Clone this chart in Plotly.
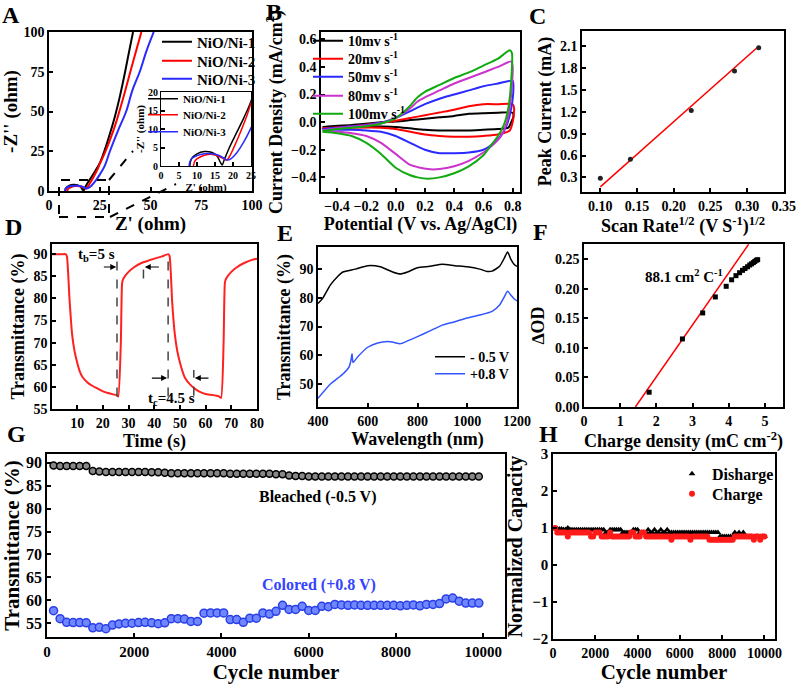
import plotly.graph_objects as go

FONT = "Liberation Serif"
W, H = 798, 684

# ---------------- Data ----------------
# A: Nyquist plots
a_names = ["NiO/Ni-1", "NiO/Ni-2", "NiO/Ni-3"]
a_colors = ["#000000", "#ff0000", "#2a2aff"]
a1_x = [8, 8.5, 10, 12, 14, 15.5, 16.5, 17, 17.5, 19, 21, 23, 25, 27.5, 30, 32.5, 35, 37.5, 39.5, 41.4]
a1_y = [0, 2, 3.3, 3.9, 3.7, 2.8, 1.0, 0.3, 1.5, 5, 9, 13, 17.5, 26, 36, 47, 60, 75, 88, 100]
a2_x = [9, 9.5, 11, 13, 15, 17, 18.2, 19, 20, 22, 24, 25, 27.5, 30, 33, 36, 39, 42, 45.5]
a2_y = [0, 1.5, 2.5, 3.1, 3.0, 2.2, 1.6, 2.5, 4.5, 9, 14, 17, 24, 32, 43, 56, 70, 84, 100]
a3_x = [7.8, 8.3, 10, 12, 14, 16, 17.5, 18.5, 19.5, 21, 23, 25, 27.5, 30, 34, 38, 41, 44.7, 48, 51.6]
a3_y = [0, 1.8, 2.8, 3.3, 3.3, 2.9, 2.1, 1.6, 2.0, 3.5, 6.5, 10.3, 16, 25, 38, 50, 63, 75, 88, 100]

# B: CV curves (closed loops)
b_names = ["10mv s<sup>-1</sup>", "20mv s<sup>-1</sup>", "50mv s<sup>-1</sup>",
           "80mv s<sup>-1</sup>", "100mv s<sup>-1</sup>"]
b_colors = ["#000000", "#ff0000", "#2a2aff", "#cc33cc", "#11aa11"]
b10_x = [-0.5, -0.3, -0.1, 0.0, 0.1, 0.2, 0.3, 0.4, 0.5, 0.6, 0.7, 0.8, 0.805, 0.79, 0.77, 0.7, 0.6, 0.5, 0.4, 0.3, 0.2, 0.1, 0.0, -0.2, -0.5]
b10_y = [-0.035, -0.02, 0.0, 0.005, 0.015, 0.025, 0.035, 0.045, 0.06, 0.065, 0.068, 0.068, 0.04, 0.0, -0.04, -0.05, -0.055, -0.06, -0.06, -0.06, -0.055, -0.045, -0.035, -0.03, -0.035]
b20_x = [-0.5, -0.3, -0.1, 0.0, 0.1, 0.2, 0.3, 0.4, 0.5, 0.6, 0.7, 0.8, 0.81, 0.8, 0.78, 0.7, 0.6, 0.5, 0.4, 0.3, 0.2, 0.1, 0.0, -0.1, -0.3, -0.5]
b20_y = [-0.045, -0.03, -0.005, 0.01, 0.03, 0.05, 0.07, 0.09, 0.115, 0.13, 0.13, 0.13, 0.1, 0.0, -0.06, -0.09, -0.1, -0.105, -0.105, -0.1, -0.09, -0.07, -0.05, -0.04, -0.04, -0.045]
b50_x = [-0.5, -0.4, -0.3, -0.2, -0.1, 0.0, 0.1, 0.2, 0.3, 0.4, 0.5, 0.6, 0.7, 0.8, 0.805, 0.79, 0.76, 0.72, 0.66, 0.6, 0.5, 0.4, 0.3, 0.2, 0.1, 0.0, -0.1, -0.2, -0.3, -0.4, -0.5]
b50_y = [-0.05, -0.04, -0.03, -0.02, -0.005, 0.03, 0.08, 0.13, 0.17, 0.2, 0.23, 0.26, 0.28, 0.30, 0.25, 0.1, -0.02, -0.1, -0.16, -0.2, -0.22, -0.225, -0.225, -0.2, -0.15, -0.1, -0.07, -0.06, -0.055, -0.055, -0.05]
b80_x = [-0.5, -0.4, -0.3, -0.2, -0.1, 0.0, 0.1, 0.15, 0.2, 0.3, 0.4, 0.5, 0.6, 0.7, 0.79, 0.8, 0.79, 0.76, 0.72, 0.66, 0.6, 0.5, 0.4, 0.3, 0.22, 0.1, 0.0, -0.1, -0.2, -0.3, -0.4, -0.5]
b80_y = [-0.06, -0.045, -0.035, -0.025, -0.01, 0.03, 0.1, 0.15, 0.18, 0.23, 0.28, 0.32, 0.36, 0.40, 0.44, 0.40, 0.2, 0.0, -0.1, -0.17, -0.22, -0.28, -0.32, -0.34, -0.34, -0.31, -0.23, -0.15, -0.1, -0.08, -0.07, -0.065]
b100_x = [-0.5, -0.4, -0.3, -0.2, -0.1, 0.0, 0.05, 0.1, 0.15, 0.2, 0.3, 0.4, 0.5, 0.6, 0.7, 0.78, 0.795, 0.79, 0.77, 0.74, 0.7, 0.65, 0.6, 0.5, 0.4, 0.3, 0.22, 0.15, 0.1, 0.0, -0.1, -0.2, -0.3, -0.4, -0.5]
b100_y = [-0.065, -0.05, -0.04, -0.03, -0.01, 0.03, 0.07, 0.12, 0.18, 0.22, 0.27, 0.32, 0.36, 0.41, 0.46, 0.52, 0.50, 0.30, 0.10, -0.02, -0.1, -0.17, -0.24, -0.32, -0.37, -0.40, -0.41, -0.40, -0.385, -0.33, -0.23, -0.15, -0.10, -0.08, -0.07]

# C: peak current vs sqrt(scan rate)
c_x = [0.100, 0.141, 0.224, 0.283, 0.316]
c_y = [0.29, 0.55, 1.22, 1.76, 2.08]
c_fit_x = [0.100, 0.316]
c_fit_y = [0.17, 2.10]

# D: switching response
d_t = [0, 2, 4, 5.5, 6, 7, 8, 9, 10, 11, 12, 14, 16, 18, 20, 22, 24, 25.5, 26, 27, 27.5, 28, 30, 32, 35, 38, 40, 43, 45.5,
       46, 47, 48, 49, 50, 51, 52, 54, 56, 58, 60, 62, 65, 66, 67, 67.5, 68, 70, 72, 75, 78, 80]
d_T = [90, 90, 90, 90, 89.5, 80, 72, 68, 65.5, 63.5, 62.3, 61, 60.2, 59.6, 59, 58.6, 58.3, 58.1, 57.8, 70, 83.5, 84.5, 86, 87, 88, 88.6, 89, 89.5, 90,
       89.5, 79, 72, 68, 65.5, 63.5, 62, 60.5, 59.5, 58.8, 58.4, 58.2, 57.9, 57.5, 70, 83.5, 84.5, 86, 87, 88, 88.7, 89]
d_marks_x = [25.5, 35.8, 45.4, 55.4]
d_marks_y0 = [57.8, 84.5, 57.8, 58.0]
d_marks_y1 = [90, 88.3, 90, 63.8]

# E: transmittance spectra
e_wl_k = [400, 420, 450, 480, 500, 550, 600, 650, 700, 730, 760, 800, 850, 900, 950, 1000, 1050, 1080, 1100, 1130, 1150, 1162, 1175, 1190, 1200]
e_T_k = [78, 80, 84.5, 87.5, 89, 90, 91.2, 90.8, 89, 88.3, 89, 90.5, 91, 91.7, 91.2, 90.8, 90, 89.2, 89.3, 91, 94, 96, 93.5, 91.5, 91]
e_wl_b = [400, 450, 500, 525, 532, 537, 541, 560, 600, 640, 680, 700, 730, 760, 800, 850, 900, 950, 1000, 1050, 1100, 1130, 1150, 1162, 1175, 1190, 1200]
e_T_b = [45, 50, 53.5, 56, 58, 60.5, 57.5, 59.5, 62.8, 64.3, 64.8, 64.6, 64, 65, 66.5, 68.5, 70.5, 71.7, 73, 74, 75.3, 77.5, 80.5, 82.3, 81, 79.5, 79]

# F: coloration efficiency
f_q = [1.80, 2.72, 3.28, 3.63, 3.93, 4.08, 4.20, 4.30, 4.38, 4.45, 4.52, 4.58, 4.63, 4.68, 4.72, 4.76, 4.80]
f_od = [0.025, 0.115, 0.159, 0.186, 0.204, 0.215, 0.222, 0.227, 0.231, 0.234, 0.237, 0.240, 0.242, 0.244, 0.246, 0.248, 0.249]
f_fit_x = [1.42, 4.55]
f_fit_y = [0.0, 0.275]

# G: cycling transmittance
g_cycles = list(range(150, 10000, 150))
g_bleached = [89.4, 89.3, 89.3, 89.3, 89.3, 89.3,
              88.2, 88.1, 88.0, 88.0, 88.0, 88.0, 88.0, 88.0, 88.0, 87.9, 87.9, 87.8, 87.7, 87.7, 87.7,
              87.7, 87.7, 87.7, 87.7, 87.7, 87.7, 87.6, 87.6, 87.6, 87.6, 87.6, 87.6, 87.6, 87.5, 87.5,
              87.2, 87.1, 87.1, 87.0, 87.0, 87.0, 87.0, 87.0, 87.0, 87.0, 87.0, 87.0, 87.0, 87.0, 87.0,
              87.0, 87.0, 87.0, 87.0, 87.0, 87.0, 87.0, 87.0, 87.0, 87.0, 87.0, 87.0, 87.0, 87.0, 87.0]
g_colored = [57.75, 56.0, 55.2, 55.15, 55.15, 55.1, 54.0, 54.1, 53.8, 54.6, 54.85, 55.0, 55.0, 55.15, 55.2,
             55.1, 54.9, 55.1, 56.0, 56.0, 55.9, 55.4, 55.4, 57.2, 57.25, 57.25, 57.25, 55.8, 55.8, 55.2,
             56.1, 56.1, 57.25, 57.0, 57.6, 58.9, 58.0, 58.0, 58.7, 57.8, 57.8, 58.7, 58.6, 59.1, 59.0,
             58.9, 59.0, 58.9, 58.9, 58.9, 58.9, 58.9, 58.9, 58.8, 58.9, 59.0, 58.8, 59.1, 59.1, 59.3,
             60.3, 60.5, 59.8, 59.4, 59.4, 59.4]

# H: normalized capacity
h_cycles = list(range(100, 10001, 100))
h_discharge = [1.00, 0.98, 0.97, 0.97, 0.96, 0.96, 1.00, 0.96, 0.95, 0.95, 0.95, 0.95, 0.95, 0.95, 0.95, 0.95, 0.95, 0.95, 0.95, 0.95,
               0.95, 0.95, 0.95, 0.95, 0.88, 0.88, 0.95, 0.95, 0.95, 0.95, 0.95, 0.95, 0.88, 0.88, 0.88, 0.88, 0.88, 0.95, 0.95, 0.95,
               0.88, 0.88, 0.88, 0.88, 0.95, 0.88, 0.88, 0.95, 0.88, 0.88, 0.95, 0.88, 0.88, 0.95, 0.88, 0.88, 0.88, 0.88, 0.88, 0.88,
               0.88, 0.88, 0.88, 0.88, 0.88, 0.88, 0.88, 0.88, 0.88, 0.88, 0.88, 0.88, 0.88, 0.88, 0.88, 0.88, 0.88, 0.88, 0.77, 0.77,
               0.77, 0.77, 0.77, 0.77, 0.77, 0.88, 0.77, 0.88, 0.77, 0.88, 0.77, 0.77, 0.77, 0.77, 0.77, 0.77, 0.77, 0.77, 0.77, 0.77]
h_charge = [1.00, 0.88, 0.88, 0.88, 0.88, 0.88, 0.77, 0.88, 0.88, 0.88, 0.88, 0.88, 0.88, 0.88, 0.88, 0.88, 0.88, 0.77, 0.77, 0.88,
            0.88, 0.88, 0.77, 0.77, 0.77, 0.77, 0.88, 0.77, 0.77, 0.77, 0.77, 0.77, 0.77, 0.77, 0.77, 0.77, 0.88, 0.88, 0.77, 0.77,
            0.77, 0.88, 0.88, 0.77, 0.77, 0.77, 0.77, 0.77, 0.77, 0.77, 0.77, 0.77, 0.77, 0.77, 0.77, 0.68, 0.77, 0.77, 0.77, 0.77,
            0.77, 0.77, 0.77, 0.77, 0.68, 0.77, 0.77, 0.77, 0.77, 0.77, 0.77, 0.77, 0.77, 0.68, 0.68, 0.68, 0.68, 0.68, 0.68, 0.68,
            0.68, 0.68, 0.68, 0.68, 0.68, 0.77, 0.77, 0.77, 0.77, 0.77, 0.77, 0.77, 0.77, 0.77, 0.68, 0.77, 0.77, 0.68, 0.77, 0.77]

# ---------------- Helpers ----------------
def xd(a, b):
    return [a / W, b / W]

def yd(top, bottom):
    return [1 - bottom / H, 1 - top / H]

def px(x):
    return x / W

def py(y):
    return 1 - y / H

def tf(size, color="black"):
    return dict(family=FONT, size=size, color=color, weight="bold")

def axis(dom, rng, tick0, dtick, anchor, fmt=None, size=14, title=None, tsize=18, standoff=4, lw=1.5):
    d = dict(domain=dom, range=rng, tick0=tick0, dtick=dtick, anchor=anchor,
             ticks="inside", ticklen=4, tickwidth=1.5, tickcolor="black",
             showline=True, linecolor="black", linewidth=lw, mirror=True,
             showgrid=False, zeroline=False, tickfont=tf(size), automargin=False)
    if fmt:
        d["tickformat"] = fmt
    if title:
        d["title"] = dict(text=title, font=tf(tsize), standoff=standoff)
    return d

# one legend box per entry so that each entry sits where the reference puts it
legend_boxes = {}
_leg_counter = [0]

def new_legend(x_text, y_center, size):
    _leg_counter[0] += 1
    key = "legend" if _leg_counter[0] == 1 else "legend%d" % _leg_counter[0]
    legend_boxes[key] = dict(x=px(x_text - 40), y=py(y_center - 0.7 * size - 7), xanchor="left", yanchor="top",
                             bgcolor="rgba(0,0,0,0)", borderwidth=0, font=tf(size), itemwidth=30)
    return key

fig = go.Figure()

# A main + inset
a_leg_y = [43, 62, 80]
for xs, ys, nm, col, ly in zip([a1_x, a2_x, a3_x], [a1_y, a2_y, a3_y], a_names, a_colors, a_leg_y):
    fig.add_trace(go.Scatter(x=xs, y=ys, mode="lines", name=nm, line=dict(color=col, width=2, shape="spline"),
                             xaxis="x", yaxis="y", legend=new_legend(197, ly, 15)))
ai_leg_y = [99, 115, 132]
for xs, ys, nm, col, ly in zip([a1_x, a2_x, a3_x], [a1_y, a2_y, a3_y], a_names, a_colors, ai_leg_y):
    fig.add_trace(go.Scatter(x=xs, y=ys, mode="lines", name=nm, line=dict(color=col, width=1.5, shape="spline"),
                             xaxis="x2", yaxis="y2", legend=new_legend(183, ly, 11)))

# B
b_leg_y = [42, 60, 78, 97, 115]
for xs, ys, nm, col, ly in zip([b10_x, b20_x, b50_x, b80_x, b100_x], [b10_y, b20_y, b50_y, b80_y, b100_y],
                               b_names, b_colors, b_leg_y):
    fig.add_trace(go.Scatter(x=xs, y=ys, mode="lines", name=nm, line=dict(color=col, width=2, shape="spline", smoothing=0.6),
                             xaxis="x3", yaxis="y3", legend=new_legend(348, ly, 14)))

# C
fig.add_trace(go.Scatter(x=c_fit_x, y=c_fit_y, mode="lines", line=dict(color="#ff0000", width=1.5),
                         xaxis="x4", yaxis="y4", showlegend=False))
fig.add_trace(go.Scatter(x=c_x, y=c_y, mode="markers", marker=dict(color="#222", size=5, symbol="circle"),
                         xaxis="x4", yaxis="y4", showlegend=False))

# D
fig.add_trace(go.Scatter(x=d_t, y=d_T, mode="lines", line=dict(color="#ff2020", width=2, shape="spline", smoothing=0.5),
                         xaxis="x5", yaxis="y5", showlegend=False))

# E
fig.add_trace(go.Scatter(x=e_wl_k, y=e_T_k, mode="lines", name="- 0.5 V", line=dict(color="#000000", width=1.5, shape="spline", smoothing=0.6),
                         xaxis="x6", yaxis="y6", legend=new_legend(470, 358, 14)))
fig.add_trace(go.Scatter(x=e_wl_b, y=e_T_b, mode="lines", name="+0.8 V", line=dict(color="#3355ff", width=1.5, shape="spline", smoothing=0.6),
                         xaxis="x6", yaxis="y6", legend=new_legend(470, 375, 14)))

# F
fig.add_trace(go.Scatter(x=f_fit_x, y=f_fit_y, mode="lines", line=dict(color="#ff0000", width=1.5),
                         xaxis="x7", yaxis="y7", showlegend=False))
fig.add_trace(go.Scatter(x=f_q, y=f_od, mode="markers", marker=dict(color="#000", size=5, symbol="square"),
                         xaxis="x7", yaxis="y7", showlegend=False))

# G
fig.add_trace(go.Scatter(x=g_cycles, y=g_bleached, mode="markers",
                         marker=dict(color="#888888", size=7, line=dict(color="#000000", width=1.5)),
                         xaxis="x8", yaxis="y8", showlegend=False))
fig.add_trace(go.Scatter(x=g_cycles, y=g_colored, mode="markers",
                         marker=dict(color="#7088ff", size=8, line=dict(color="#2a3ee6", width=1.5)),
                         xaxis="x8", yaxis="y8", showlegend=False))

# H
fig.add_trace(go.Scatter(x=h_cycles, y=h_discharge, mode="markers", name="Disharge",
                         marker=dict(color="#000000", size=6, symbol="triangle-up"),
                         xaxis="x9", yaxis="y9", legend=new_legend(712, 475, 16)))
fig.add_trace(go.Scatter(x=h_cycles, y=h_charge, mode="markers", name="Charge",
                         marker=dict(color="#ff1a1a", size=6, symbol="circle"),
                         xaxis="x9", yaxis="y9", legend=new_legend(712, 495, 16)))

# ---------------- Layout ----------------
layout = dict(
    width=W, height=H, margin=dict(l=0, r=0, t=0, b=0),
    paper_bgcolor="white", plot_bgcolor="white",
    font=dict(family=FONT, color="black", weight="bold"),
    xaxis=axis(xd(49, 252), [0, 100], 0, 25, "y", title="Z' (ohm)", tsize=19, standoff=2),
    yaxis=axis(yd(32, 191), [0, 100], 0, 25, "x", title="-Z'' (ohm)", tsize=19, standoff=4),
    xaxis2=axis(xd(161, 251), [0, 25], 0, 5, "y2", size=10, title="Z' (ohm)", tsize=11, standoff=0, lw=1),
    yaxis2=axis(yd(92, 166), [0, 20], 0, 5, "x2", size=10, title="-Z'' (ohm)", tsize=11, standoff=1, lw=1),
    xaxis3=axis(xd(321, 520), [-0.51, 0.85], -0.4, 0.2, "y3", fmt=".1f", title="Potential (V vs. Ag/AgCl)", standoff=2),
    yaxis3=axis(yd(32, 192), [-0.506, 0.653], -0.4, 0.2, "x3", fmt=".1f", title="Current Density (mA/cm<sup>2</sup>)", standoff=4),
    xaxis4=axis(xd(582, 784), [0.075, 0.3505], 0.1, 0.05, "y4", fmt=".2f",
                title="Scan Rate<sup>1/2</sup> (V S<sup>-1</sup>)<sup>1/2</sup>", standoff=2),
    yaxis4=axis(yd(31, 192), [0.1, 2.31], 0.3, 0.3, "x4", fmt=".1f", title="Peak Current (mA)", standoff=4),
    xaxis5=axis(xd(52, 257), [0.2, 80], 0, 10, "y5", title="Time (s)", standoff=2),
    yaxis5=axis(yd(244, 409), [55, 92.3], 55, 5, "x5", title="Transmittance (%)", standoff=4),
    xaxis6=axis(xd(318, 517), [400, 1200], 400, 200, "y6", title="Wavelength (nm)", standoff=0),
    yaxis6=axis(yd(247, 407), [42, 97.7], 50, 10, "x6", title="Transmittance (%)", standoff=4),
    xaxis7=axis(xd(584, 783), [0, 5.5], 0, 1, "y7", title="Charge density (mC cm<sup>-2</sup>)", standoff=2),
    yaxis7=axis(yd(244, 407), [0, 0.2755], 0, 0.05, "x7", fmt=".2f", title="\u2206OD", standoff=6),
    xaxis8=axis(xd(47, 505), [0, 10500], 0, 2000, "y8", fmt="d", size=15, title="Cycle number", tsize=21, standoff=0),
    yaxis8=axis(yd(454, 637), [52, 91.9], 55, 5, "x8", size=16, title="Transmittance (%)", tsize=21, standoff=2),
    xaxis9=axis(xd(553, 775), [0, 10500], 0, 2000, "y9", fmt="d", size=14, title="Cycle number", tsize=21, standoff=0),
    yaxis9=axis(yd(454, 639), [-2, 3], -2, 1, "x9", size=15, title="Normalized Capacity", tsize=20, standoff=4),
)
layout.update(legend_boxes)
fig.update_layout(**layout)

# Panel letters
letters = [("A", 11, 15), ("B", 274, 12), ("C", 537, 16), ("D", 13, 227),
           ("E", 285, 233), ("F", 540, 232), ("G", 16, 434), ("H", 548, 434)]
for t, x, y in letters:
    fig.add_annotation(text=t, x=px(x), y=py(y), xref="paper", yref="paper", showarrow=False,
                       font=tf(24), xanchor="center", yanchor="middle")

# A: zoom rectangle and guide lines (decorations)
dash = dict(color="black", width=2, dash="dash")
fig.add_shape(type="rect", xref="paper", yref="paper", x0=px(59), x1=px(109), y0=py(217), y1=py(180), line=dash)
fig.add_shape(type="line", xref="paper", yref="paper", x0=px(109), y0=py(180), x1=px(133), y1=py(151), line=dash)
fig.add_shape(type="line", xref="paper", yref="paper", x0=px(110), y0=py(217), x1=px(176), y1=py(184), line=dash)

# D: dashed markers and arrows
for xm, y0, y1 in zip(d_marks_x, d_marks_y0, d_marks_y1):
    fig.add_shape(type="line", xref="x5", yref="y5", x0=xm, x1=xm, y0=y0, y1=y1,
                  line=dict(color="#444", width=1.5, dash="dash"))
arrows = [(25.2, 87.1, 19.8), (36.3, 87.1, 42.4), (45.0, 62.0, 38.5), (55.8, 62.0, 61.7)]
for xh, yh, xt in arrows:
    fig.add_annotation(x=xh, y=yh, ax=xt, ay=yh, xref="x5", yref="y5", axref="x5", ayref="y5",
                       text="", showarrow=True, arrowhead=2, arrowsize=1, arrowwidth=1.2, arrowcolor="black")
fig.add_annotation(x=17.5, y=89.8, xref="x5", yref="y5", text="t<sub>b</sub>=5 s", showarrow=False, font=tf(15))
fig.add_annotation(x=46.8, y=57.3, xref="x5", yref="y5", text="t<sub>c</sub>=4.5 s", showarrow=False, font=tf(15))

# F text
fig.add_annotation(x=2.75, y=0.222, xref="x7", yref="y7", text="88.1 cm<sup>2</sup> C<sup>-1</sup>",
                   showarrow=False, font=tf(15))

# G text
fig.add_annotation(x=6200, y=82.5, xref="x8", yref="y8", text="Bleached (-0.5 V)", showarrow=False, font=tf(16))
fig.add_annotation(x=6230, y=63.4, xref="x8", yref="y8", text="Colored (+0.8 V)", showarrow=False,
                   font=tf(16, "#3344ff"))

fig.write_html("out.html", config={"displayModeBar": False},
               post_script="document.body.style.margin='0';document.body.style.overflow='hidden';")
